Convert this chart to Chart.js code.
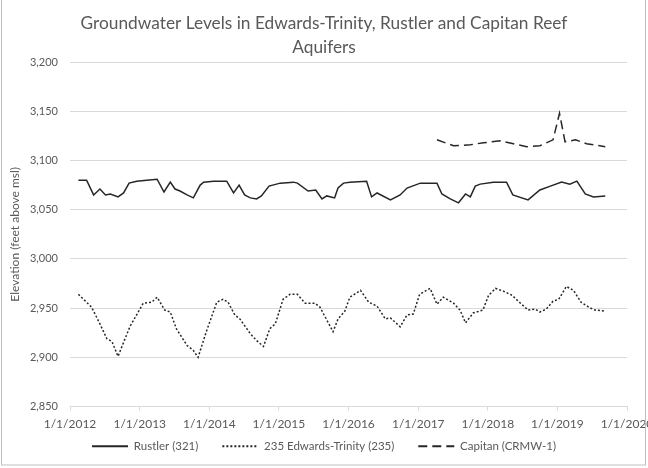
<!DOCTYPE html>
<html>
<head>
<meta charset="utf-8">
<script src="https://cdn.jsdelivr.net/npm/chart.js@4/dist/chart.umd.min.js"></script>
<style>
  body { margin: 0; background: #fff; }
  canvas { display: block; }
</style>
</head>
<body>
<canvas id="gwChart" width="648" height="468"></canvas>
<script>
const rustlerDates = ['2012-02-14','2012-03-28','2012-05-04','2012-06-06','2012-07-05','2012-07-31','2012-09-09','2012-10-08','2012-11-06','2012-12-16',
  '2013-02-06','2013-04-02','2013-05-08','2013-06-10','2013-07-05','2013-07-31','2013-09-06','2013-10-09','2013-11-14','2013-12-02',
  '2014-01-23','2014-04-02','2014-05-08','2014-06-06','2014-07-05','2014-08-04','2014-09-06','2014-10-01','2014-11-10',
  '2015-01-08','2015-03-18','2015-04-08','2015-06-03','2015-07-13','2015-08-15','2015-09-09','2015-10-20','2015-11-07','2015-12-06',
  '2016-01-08','2016-04-05','2016-05-01','2016-05-30','2016-08-08','2016-09-28','2016-11-03',
  '2017-01-12','2017-04-09','2017-05-05','2017-06-18','2017-07-31','2017-09-06','2017-10-01','2017-10-27','2017-11-22',
  '2018-01-30','2018-04-09','2018-05-12','2018-07-31','2018-10-01','2018-11-25',
  '2019-01-23','2019-03-07','2019-04-13','2019-05-27','2019-07-09','2019-09-09'];
const rustlerLevels = [3080,3080,3065,3071,3065,3066,3063,3067,3077,3079,
  3080,3081,3068,3078,3071,3069,3065,3062,3075,3078,
  3079,3079,3067,3075,3065,3062,3061,3064,3074,
  3077,3078,3077,3069,3070,3061,3064,3062,3072,3077,
  3078,3079,3063,3067,3060,3065,3072,
  3077,3077,3066,3061,3057,3066,3063,3074,3076,
  3078,3078,3065,3060,3070,3074,
  3078,3076,3079,3066,3063,3064];

const edwardsDates = ['2012-02-14','2012-04-23','2012-06-06','2012-07-12','2012-08-08','2012-09-09','2012-11-10',
  '2013-01-19','2013-03-04','2013-04-02','2013-05-12','2013-06-10','2013-07-12','2013-09-06','2013-10-09','2013-11-03','2013-12-16',
  '2014-02-09','2014-03-14','2014-04-09','2014-05-15','2014-06-10','2014-08-04','2014-09-06','2014-10-12','2014-11-14','2014-12-13',
  '2015-01-23','2015-02-28','2015-04-08','2015-05-19','2015-07-09','2015-08-04','2015-09-09','2015-10-12','2015-11-07','2015-12-13',
  '2016-01-08','2016-03-04','2016-04-16','2016-05-30','2016-07-12','2016-08-08','2016-09-28','2016-11-03','2016-12-06',
  '2017-01-08','2017-03-04','2017-04-09','2017-05-12','2017-07-05','2017-08-08','2017-09-06','2017-10-16','2017-12-06',
  '2018-01-05','2018-02-10','2018-03-26','2018-05-08','2018-06-21','2018-07-31','2018-09-06','2018-10-01','2018-11-03','2018-12-09',
  '2019-01-08','2019-02-17','2019-03-26','2019-05-05','2019-06-14','2019-07-16','2019-09-09'];
const edwardsLevels = [2964,2951,2934,2919,2916,2901,2931,
  2955,2956,2961,2948,2946,2929,2912,2907,2900,2926,
  2956,2959,2956,2943,2939,2924,2917,2911,2929,2934,
  2959,2964,2964,2955,2955,2951,2938,2926,2939,2947,
  2961,2968,2956,2952,2939,2940,2931,2943,2944,
  2964,2970,2954,2961,2955,2948,2935,2945,2948,
  2963,2970,2967,2963,2955,2948,2949,2946,2949,2957,
  2959,2972,2968,2956,2951,2948,2947];

const capitanDates = ['2017-04-09','2017-07-05','2017-10-01','2017-12-09','2018-03-07','2018-05-15','2018-07-24','2018-10-01','2018-12-09',
  '2019-01-12','2019-02-10','2019-04-06','2019-06-03','2019-09-09'];
const capitanLevels = [3121,3115,3116,3118,3120,3117,3114,3115,3121,3148,3119,3121,3117,3114];

const seriesNames = ['Rustler (321)', '235 Edwards-Trinity (235)', 'Capitan (CRMW-1)'];
const tickYears = [2012, 2013, 2014, 2015, 2016, 2017, 2018, 2019, 2020];
const xTickLabels = ['1/1/2012','1/1/2013','1/1/2014','1/1/2015','1/1/2016','1/1/2017','1/1/2018','1/1/2019','1/1/2020'];

const toPoints = (dates, vals) => dates.map((d, i) => ({ x: Date.parse(d), y: vals[i] }));

const textGray = '#595959';
const lineColor = '#262626';
const fontFamily = 'Lato, "Open Sans", sans-serif';

// thin frame around the whole chart, like the spreadsheet chart area
const framePlugin = {
  id: 'frame',
  afterLayout(chart) {
    // the x axis is packed tight against the legend; give its labels room so they aren't clipped
    const x = chart.scales.x;
    x.bottom = x.top + 30;
  },
  afterDraw(chart) {
    const c = chart.ctx;
    c.save();
    c.strokeStyle = '#bfbfbf';
    c.lineWidth = 1;
    c.strokeRect(1.5, -1, 644, 466);
    c.restore();
  }
};

const ctx = document.getElementById('gwChart').getContext('2d');

new Chart(ctx, {
  type: 'line',
  data: {
    datasets: [{
      label: seriesNames[0],
      data: toPoints(rustlerDates, rustlerLevels),
      borderColor: lineColor,
      borderWidth: 1.5,
      pointRadius: 0,
      tension: 0
    }, {
      label: seriesNames[1],
      data: toPoints(edwardsDates, edwardsLevels),
      borderColor: lineColor,
      borderWidth: 1.5,
      borderDash: [2, 2],
      pointRadius: 0,
      tension: 0
    }, {
      label: seriesNames[2],
      data: toPoints(capitanDates, capitanLevels),
      borderColor: lineColor,
      borderWidth: 1.5,
      borderDash: [9, 5],
      pointRadius: 0,
      tension: 0
    }]
  },
  options: {
    responsive: false,
    animation: false,
    layout: {
      padding: { left: 21, right: 21, top: 0, bottom: 6 }
    },
    plugins: {
      title: {
        display: true,
        text: ['Groundwater Levels in Edwards-Trinity, Rustler and Capitan Reef', 'Aquifers'],
        color: textGray,
        font: { family: fontFamily, size: 17.3, weight: 'normal', lineHeight: 1.39 },
        padding: { top: 11, bottom: 3 }
      },
      legend: {
        position: 'bottom',
        labels: {
          color: textGray,
          font: { family: fontFamily, size: 11.5 },
          usePointStyle: true,
          pointStyle: 'line',
          pointStyleWidth: 36,
          boxHeight: 8,
          padding: 24,
          generateLabels: chart =>
            Chart.defaults.plugins.legend.labels.generateLabels(chart).map(item => ({
              ...item,
              lineDash: chart.data.datasets[item.datasetIndex].borderDash || [],
              lineWidth: 2
            }))
        }
      },
      tooltip: { enabled: false }
    },
    scales: {
      x: {
        type: 'linear',
        min: Date.UTC(2012, 0, 1),
        max: Date.UTC(2020, 0, 1),
        afterBuildTicks: scale => {
          scale.ticks = tickYears.map(y => ({ value: Date.UTC(y, 0, 1) }));
        },
        afterFit: scale => {
          scale.paddingRight = 0;
          scale.height = 10;
        },
        grid: {
          drawOnChartArea: false,
          color: '#d9d9d9',
          tickLength: 4
        },
        border: { color: '#d9d9d9' },
        ticks: {
          color: textGray,
          font: { family: fontFamily, size: 12 },
          maxRotation: 0,
          autoSkip: false,
          padding: 6,
          callback: (v, i) => xTickLabels[i]
        }
      },
      y: {
        min: 2850,
        max: 3200,
        afterFit: scale => { scale.width = 49; },
        grid: {
          color: '#d9d9d9',
          drawTicks: false
        },
        border: { display: false },
        ticks: {
          stepSize: 50,
          color: textGray,
          font: { family: fontFamily, size: 11 },
          padding: 12,
          callback: v => v.toLocaleString('en-US')
        },
        title: {
          display: true,
          text: 'Elevation (feet above msl)',
          color: textGray,
          font: { family: fontFamily, size: 12 },
          padding: { top: -13, bottom: 0 }
        }
      }
    }
  },
  plugins: [framePlugin]
});
</script>
</body>
</html>
